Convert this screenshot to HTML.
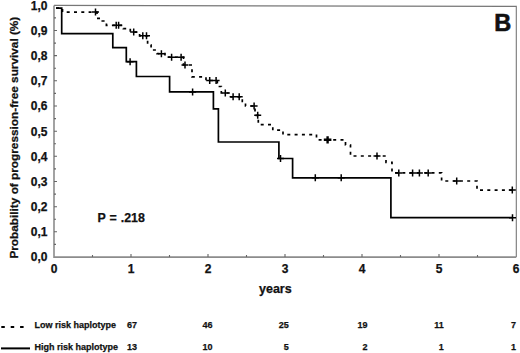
<!DOCTYPE html>
<html><head><meta charset="utf-8"><style>
html,body{margin:0;padding:0;background:#fff;}
svg{display:block;}
text{font-family:"Liberation Sans",sans-serif;font-weight:bold;fill:#111;stroke:#111;stroke-width:0.25px;}
</style></head><body>
<svg width="520" height="353" viewBox="0 0 520 353">
<rect width="520" height="353" fill="#fff"/>
<path d="M54,5.4L516.3,6.4V257" fill="none" stroke="#777" stroke-width="1.1"/>
<path d="M54,5.4V257.1H516.3" fill="none" stroke="#8c8c8c" stroke-width="1.6"/>
<path d="M54.0,244.4h2M54.0,231.8h3M54.0,219.2h2M54.0,206.7h3M54.0,194.1h2M54.0,181.5h3M54.0,168.9h2M54.0,156.3h3M54.0,143.7h2M54.0,131.2h3M54.0,118.6h2M54.0,106.0h3M54.0,93.4h2M54.0,80.8h3M54.0,68.2h2M54.0,55.6h3M54.0,43.1h2M54.0,30.5h3M54.0,17.9h2M92.5,257.0v-2M131.0,257.0v-3M169.5,257.0v-2M208.0,257.0v-3M246.5,257.0v-2M285.0,257.0v-3M323.5,257.0v-2M362.0,257.0v-3M400.5,257.0v-2M439.0,257.0v-3M477.5,257.0v-2" fill="none" stroke="#666" stroke-width="1.1"/>
<path d="M56,8.2 H61.7 V33.7 H112.8 V47.7 H126.3 V61.7 H136.4 V76.5 H169.6 V91.9 H213.4 V108.8 H218.4 V142 H278.9 V158.5 H292.6 V177.8 H390.9 V217.7 H512.5" fill="none" stroke="#000" stroke-width="1.7"/>
<path d="M56,8.2 H62.5 V12.1 H97 V18.3 H102.3 V21 H106.4 V25.3 H123.3 V28.6 H130.3 V32.1 H139.6 V35.8 H147.6 V45 H151.1 V50 H157 V53.7 H165 V57.2 H183.5 V65 H192 V76.8 H206 V80.5 H217.3 V86.5 H221.3 V93 H229 V96.8 H242.3 V101.5 H245.5 V106 H255 V115.3 H258.3 V124.7 H272.8 V130.2 H283 V134.6 H316.5 V139.8 H345.5 V145 H350.5 V156 H386 V162.3 H392 V172.9 H441.6 V181 H477 V190.1 H512.5" fill="none" stroke="#000" stroke-width="1.7" stroke-dasharray="3 4.3"/>
<path d="M126.6,61.7H133.6M130.1,58.2V65.2M189.1,91.9H196.1M192.6,88.4V95.4M277.0,158.5H284.0M280.5,155.0V162.0M311.8,177.8H318.8M315.3,174.3V181.3M337.7,177.8H344.7M341.2,174.3V181.3M509.0,217.7H516.0M512.5,214.2V221.2M92.0,12.1H99.0M95.5,8.6V15.6M112.7,25.3H119.7M116.2,21.8V28.8M115.1,25.3H122.1M118.6,21.8V28.8M130.2,32.1H137.2M133.7,28.6V35.6M139.3,35.8H146.3M142.8,32.3V39.3M143.0,35.8H150.0M146.5,32.3V39.3M157.9,53.7H164.9M161.4,50.2V57.2M168.1,57.2H175.1M171.6,53.7V60.7M177.6,57.2H184.6M181.1,53.7V60.7M181.5,65.0H188.5M185.0,61.5V68.5M206.2,80.5H213.2M209.7,77.0V84.0M212.6,80.5H219.6M216.1,77.0V84.0M221.8,93.0H228.8M225.3,89.5V96.5M229.6,96.8H236.6M233.1,93.3V100.3M235.7,96.8H242.7M239.2,93.3V100.3M250.6,106.0H257.6M254.1,102.5V109.5M254.2,115.3H261.2M257.7,111.8V118.8M373.5,156.0H380.5M377.0,152.5V159.5M395.3,172.9H402.3M398.8,169.4V176.4M409.1,172.9H416.1M412.6,169.4V176.4M415.9,172.9H422.9M419.4,169.4V176.4M424.7,172.9H431.7M428.2,169.4V176.4M453.2,181.0H460.2M456.7,177.5V184.5M508.8,190.1H515.8M512.3,186.6V193.6" fill="none" stroke="#000" stroke-width="1.5"/>
<path d="M323.8,139.8H331.4M327.6,136.2V143.4" fill="none" stroke="#000" stroke-width="2.4"/>
<g font-size="12"><text x="47.5" y="261.3" text-anchor="end">0,0</text><text x="47.5" y="236.1" text-anchor="end">0,1</text><text x="47.5" y="211.0" text-anchor="end">0,2</text><text x="47.5" y="185.8" text-anchor="end">0,3</text><text x="47.5" y="160.6" text-anchor="end">0,4</text><text x="47.5" y="135.5" text-anchor="end">0,5</text><text x="47.5" y="110.3" text-anchor="end">0,6</text><text x="47.5" y="85.1" text-anchor="end">0,7</text><text x="47.5" y="59.9" text-anchor="end">0,8</text><text x="47.5" y="34.8" text-anchor="end">0,9</text><text x="47.5" y="9.6" text-anchor="end">1,0</text><text x="54.0" y="272.6" text-anchor="middle">0</text><text x="131.0" y="272.6" text-anchor="middle">1</text><text x="208.0" y="272.6" text-anchor="middle">2</text><text x="285.0" y="272.6" text-anchor="middle">3</text><text x="362.0" y="272.6" text-anchor="middle">4</text><text x="439.0" y="272.6" text-anchor="middle">5</text><text x="516.0" y="272.6" text-anchor="middle">6</text></g>
<text x="97.4" y="222.3" font-size="12.4" word-spacing="0.6">P = .218</text>
<text x="259" y="292.7" font-size="12.5">years</text>
<text x="494.2" y="30.7" font-size="23.5" style="stroke-width:0.6px">B</text>
<text transform="translate(18.1,258.6) rotate(-90)" font-size="11.8">Probability of progression-free survival (%)</text>
<path d="M1.3,326.9H24" fill="none" stroke="#000" stroke-width="2" stroke-dasharray="3.5 5.9"/>
<path d="M1,348.4H30" fill="none" stroke="#000" stroke-width="2"/>
<g font-size="9"><text x="34.6" y="328.2">Low risk haplotype</text><text x="34.6" y="350.3">High risk haplotype</text><text x="136.9" y="328.2" text-anchor="end">67</text><text x="136.9" y="350.3" text-anchor="end">13</text><text x="212.5" y="328.2" text-anchor="end">46</text><text x="212.5" y="350.3" text-anchor="end">10</text><text x="288.7" y="328.2" text-anchor="end">25</text><text x="288.7" y="350.3" text-anchor="end">5</text><text x="367.5" y="328.2" text-anchor="end">19</text><text x="367.5" y="350.3" text-anchor="end">2</text><text x="443.8" y="328.2" text-anchor="end">11</text><text x="443.8" y="350.3" text-anchor="end">1</text><text x="516.0" y="328.2" text-anchor="end">7</text><text x="516.0" y="350.3" text-anchor="end">1</text></g>
</svg>
</body></html>
